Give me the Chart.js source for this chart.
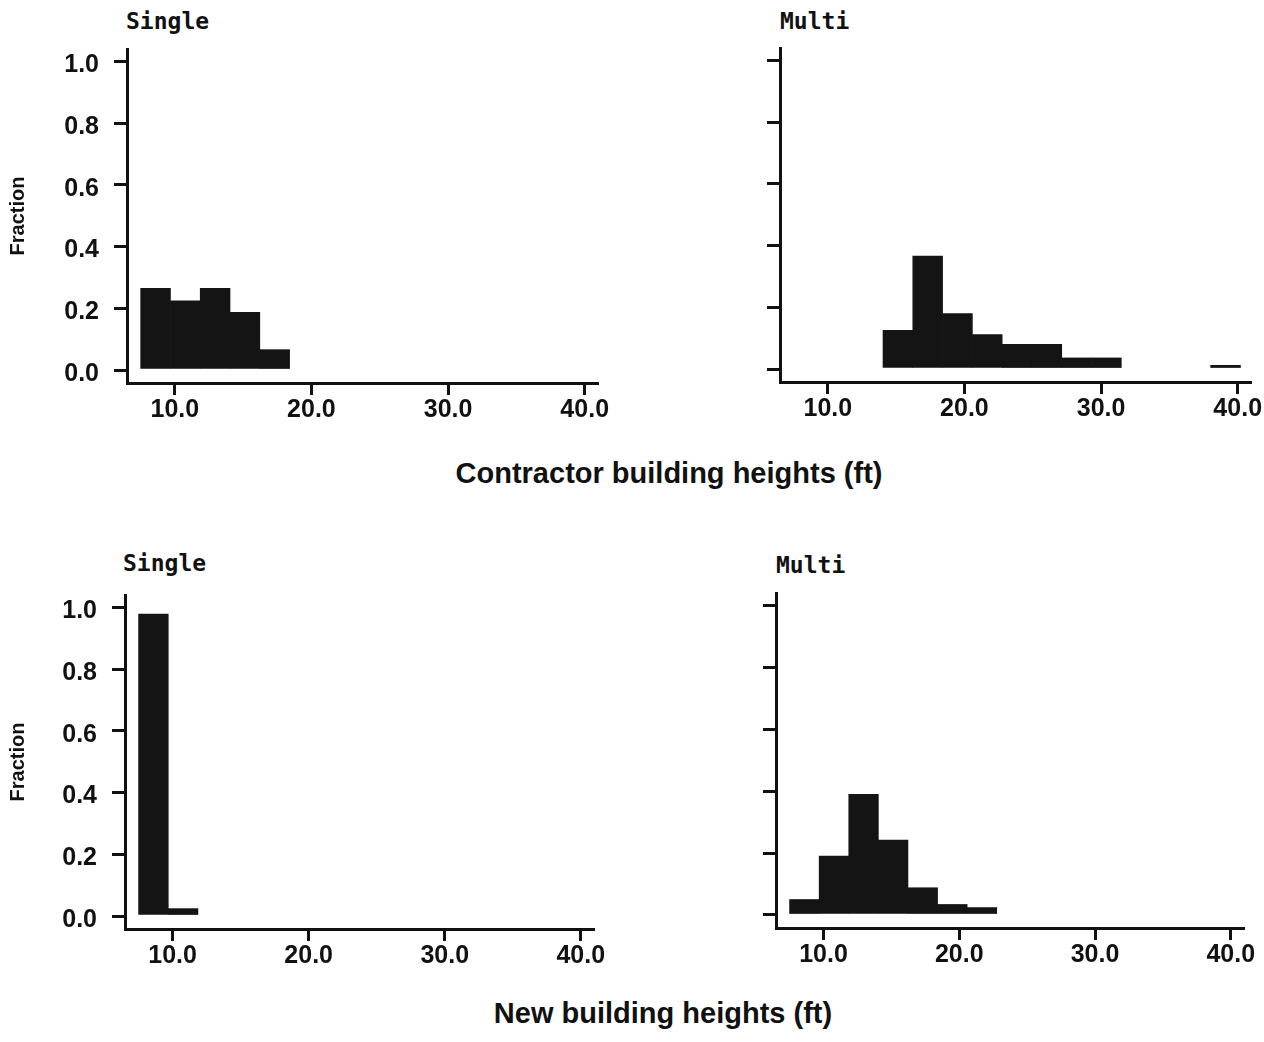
<!DOCTYPE html>
<html>
<head>
<meta charset="utf-8">
<title>Building heights</title>
<script src="https://cdn.jsdelivr.net/npm/chart.js@4.4.1/dist/chart.umd.min.js"></script>
<style>
  body { margin: 0; background: #fff; width: 1264px; height: 1042px; overflow: hidden; position: relative; }
  canvas { position: absolute; }
  .panel-title { position: absolute; font: bold 23px/23px "DejaVu Sans Mono", monospace; color: #111; white-space: nowrap; }
  .axis-label { position: absolute; font: bold 29px/29px "Liberation Sans", Arial, sans-serif; color: #111; white-space: nowrap; transform: translateX(-50%); }
</style>
</head>
<body>
<div class="panel-title" style="left:126px; top:10px">Single</div>
<div class="panel-title" style="left:780px; top:10px">Multi</div>
<div class="panel-title" style="left:123px; top:552px">Single</div>
<div class="panel-title" style="left:776px; top:554px">Multi</div>
<div class="axis-label" style="left:669px; top:459px">Contractor building heights (ft)</div>
<div class="axis-label" style="left:663px; top:999px">New building heights (ft)</div>

<canvas id="contractor-single" width="632" height="440" style="left:0; top:0"></canvas>
<canvas id="contractor-multi" width="632" height="440" style="left:632px; top:0"></canvas>
<canvas id="new-single" width="632" height="480" style="left:0; top:500px"></canvas>
<canvas id="new-multi" width="632" height="480" style="left:632px; top:500px"></canvas>

<script>
// bin mid points (ft), same 15 bins in every panel
const binMids = [8.59, 10.77, 12.95, 15.13, 17.31, 19.49, 21.67, 23.85, 26.03, 28.21, 30.39, 32.57, 34.75, 36.93, 39.11];

const contractorSingle = [0.265, 0.224, 0.265, 0.187, 0.066, 0, 0, 0, 0, 0, 0, 0, 0, 0, 0];
const contractorMulti = [0, 0, 0, 0.125, 0.366, 0.18, 0.112, 0.08, 0.08, 0.036, 0.036, 0, 0, 0, 0.012];
const newSingle = [0.978, 0.024, 0, 0, 0, 0, 0, 0, 0, 0, 0, 0, 0, 0, 0];
const newMulti = [0.05, 0.19, 0.39, 0.242, 0.088, 0.034, 0.024, 0, 0, 0, 0, 0, 0, 0, 0];

const xTicks = [10, 20, 30, 40];
const xTickLabels = ['10.0', '20.0', '30.0', '40.0'];
const yTicks = [0, 0.2, 0.4, 0.6, 0.8, 1.0];
const yTickLabels = ['0.0', '0.2', '0.4', '0.6', '0.8', '1.0'];

const ink = '#111';
const sans = "'Liberation Sans', Arial, sans-serif";
const tickFont = { family: sans, weight: 'bold', size: 25 };

function histogram(id, values, box, withLabels) {
  // box says where the plot area sits inside the canvas
  new Chart(document.getElementById(id), {
    type: 'bar',
    data: {
      datasets: [{
        data: binMids.map((x, i) => ({ x: x, y: values[i] })),
        // empty bins would otherwise leave a hairline on the zero line
        backgroundColor: c => (c.raw && c.raw.y > 0 ? '#141414' : 'rgba(0,0,0,0)'),
        borderWidth: 0,
        categoryPercentage: 1,
        barPercentage: 1
      }]
    },
    options: {
      responsive: false,
      animation: false,
      layout: { padding: { left: 0, top: box.top, right: box.right, bottom: 0 } },
      plugins: { legend: { display: false }, tooltip: { enabled: false } },
      scales: {
        x: {
          type: 'linear',
          min: 6.5,
          max: 40.9,
          bounds: 'data',
          offset: false,
          grid: { offset: false, drawOnChartArea: false, color: ink, lineWidth: 3, tickLength: 12 },
          border: { color: ink, width: 3 },
          afterBuildTicks: axis => { axis.ticks = xTicks.map(v => ({ value: v })); },
          afterFit: axis => { axis.height = box.xHeight; axis.paddingLeft = 0; axis.paddingRight = 0; },
          ticks: {
            font: tickFont, color: ink, padding: 0, maxRotation: 0, minRotation: 0, autoSkip: false,
            callback: v => xTickLabels[xTicks.indexOf(v)]
          }
        },
        y: {
          min: -0.042,
          max: 1.04,
          bounds: 'data',
          grid: { drawOnChartArea: false, color: ink, lineWidth: 3, tickLength: 13 },
          border: { color: ink, width: 3 },
          afterBuildTicks: axis => { axis.ticks = yTicks.map(v => ({ value: v })); },
          afterFit: axis => { axis.width = box.yWidth; axis.paddingTop = 0; axis.paddingBottom = 0; },
          ticks: {
            display: withLabels, font: tickFont, color: ink, padding: 15, labelOffset: 4,
            callback: v => yTickLabels[yTicks.indexOf(v)]
          },
          title: {
            display: withLabels, text: 'Fraction', color: ink,
            font: { family: sans, weight: 'bold', size: 20 },
            padding: { top: 6, bottom: 0 }
          }
        }
      }
    }
  });
}

histogram('contractor-single', contractorSingle, { top: 49, right: 35, xHeight: 57, yWidth: 127 }, true);
histogram('contractor-multi', contractorMulti, { top: 48, right: 14, xHeight: 58, yWidth: 148 }, false);
histogram('new-single', newSingle, { top: 95, right: 39, xHeight: 51, yWidth: 125 }, true);
histogram('new-multi', newMulti, { top: 93, right: 21, xHeight: 52, yWidth: 144 }, false);
</script>
</body>
</html>
